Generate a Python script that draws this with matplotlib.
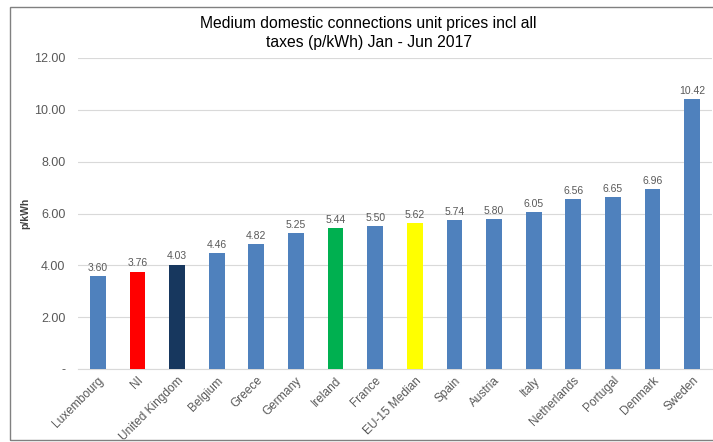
import matplotlib
matplotlib.use('Agg')
import matplotlib.pyplot as plt
import matplotlib.ticker as ticker
from matplotlib.patches import Rectangle

# 数据
countries = ['Luxembourg', 'NI', 'United Kingdom', 'Belgium', 'Greece', 'Germany',
             'Ireland', 'France', 'EU-15 Median', 'Spain', 'Austria', 'Italy',
             'Netherlands', 'Portugal', 'Denmark', 'Sweden']
prices = [3.60, 3.76, 4.03, 4.46, 4.82, 5.25, 5.44, 5.50, 5.62, 5.74, 5.80,
          6.05, 6.56, 6.65, 6.96, 10.42]
highlight = {'NI': '#FF0000', 'United Kingdom': '#17375E',
             'Ireland': '#00B050', 'EU-15 Median': '#FFFF00'}
y_ticks = [0, 2, 4, 6, 8, 10, 12]

BASE = '#4F81BD'
TXT = '#595959'

plt.rcParams['font.family'] = ['Liberation Sans', 'DejaVu Sans']

fig = plt.figure(figsize=(7.13, 4.42), dpi=100)
ax = fig.add_axes([78 / 713, 1 - 369 / 442, 634 / 713, 311 / 442])

colors = [highlight.get(c, BASE) for c in countries]
x = range(len(countries))
ax.bar(x, prices, width=0.4, color=colors, zorder=3)

for xi, v in zip(x, prices):
    ax.text(xi, v + 0.12, f'{v:.2f}', ha='center', va='bottom', fontsize=7.5, color=TXT)

ax.set_xlim(-0.5, len(countries) - 0.5)
ax.set_ylim(0, 12)
ax.set_yticks(y_ticks)
ax.yaxis.set_major_formatter(ticker.FuncFormatter(lambda v, p: '-' if v == 0 else f'{v:.2f}'))
ax.set_xticks(list(x))
ax.set_xticklabels(countries, rotation=45, ha='right', rotation_mode='anchor', fontsize=8.6, color=TXT)
ax.tick_params(axis='y', length=0, labelsize=9, labelcolor=TXT, pad=9)
ax.tick_params(axis='x', length=0, pad=4)
ax.grid(axis='y', color='#D9D9D9', lw=0.8, zorder=0)
for s in ['top', 'right', 'left']:
    ax.spines[s].set_visible(False)
ax.spines['bottom'].set_color('#D9D9D9')

ax.set_ylabel('p/kWh', fontsize=7.5, fontweight='bold', color='#404040')
ax.yaxis.set_label_coords(-(78 - 30) / 634, 0.5)

fig.text(0.5 + 12 / 713, 1 - 33 / 442,
         'Medium domestic connections unit prices incl all\ntaxes (p/kWh) Jan - Jun 2017',
         ha='center', va='center', fontsize=11.3, color='#000000', linespacing=1.3)

fig.patches.append(Rectangle((10 / 713, 2 / 442), 1, 1 - 9 / 442, transform=fig.transFigure,
                             fill=False, edgecolor='#808080', lw=1))

fig.savefig('out.png', dpi=100)
